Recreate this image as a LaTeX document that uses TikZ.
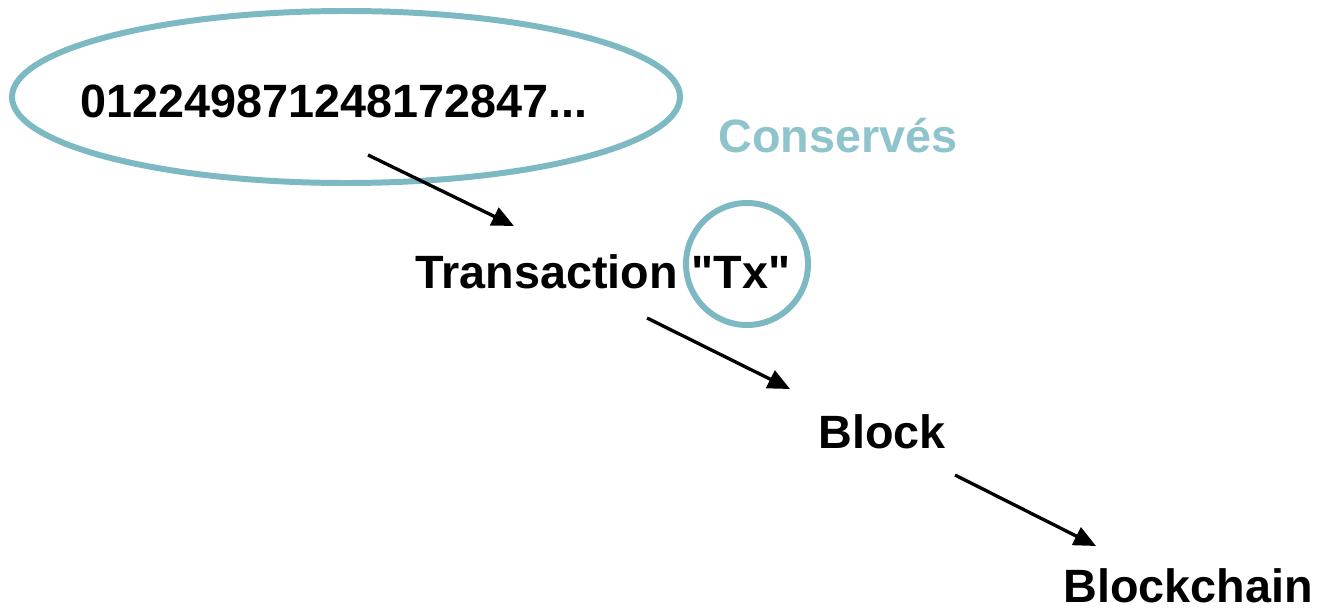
\documentclass[tikz,border=0pt]{standalone}
\usepackage{fontspec}
\setmainfont{Liberation Sans}[Ligatures=TeXOff]
\usetikzlibrary{arrows.meta}
\definecolor{teal1}{HTML}{7DB9C3}
\definecolor{teal2}{HTML}{8FC4CC}
\begin{document}
\begin{tikzpicture}[x=0.02cm,y=-0.02cm,
  lbl/.style={anchor=base west,inner sep=0pt,font=\fontsize{26.6}{30}\selectfont\bfseries},
  ring/.style={draw=teal1,line width=3.4pt},
  arr/.style={line width=1.9pt,-{Triangle[length=12.5pt,width=11pt]}}]
\useasboundingbox (0,0) rectangle (1319,611);
\fill[white] (0,0) rectangle (1319,611);
\draw[ring] (346,97) ellipse [x radius=334, y radius=86];
\node[lbl] (num) at (80,118) {012249871248172847...};
\node[lbl,text=teal2] (cons) at (718,153) {Conservés};
\node[lbl] (tx) at (415,289) {Transaction};
\node[lbl] (txq) at (691,289) {"Tx"};
\draw[ring] (747,264) circle [radius=61];
\node[lbl] (block) at (818,448) {Block};
\node[lbl] (chain) at (1063,602) {Blockchain};
\coordinate (a1s) at (368,155);
\coordinate (a1e) at (514,226);
\coordinate (a2s) at (647,318);
\coordinate (a2e) at (790,389);
\coordinate (a3s) at (955,475);
\coordinate (a3e) at (1096,546);
\draw[arr] (a1s) -- (a1e);
\draw[arr] (a2s) -- (a2e);
\draw[arr] (a3s) -- (a3e);
\end{tikzpicture}
\end{document}
